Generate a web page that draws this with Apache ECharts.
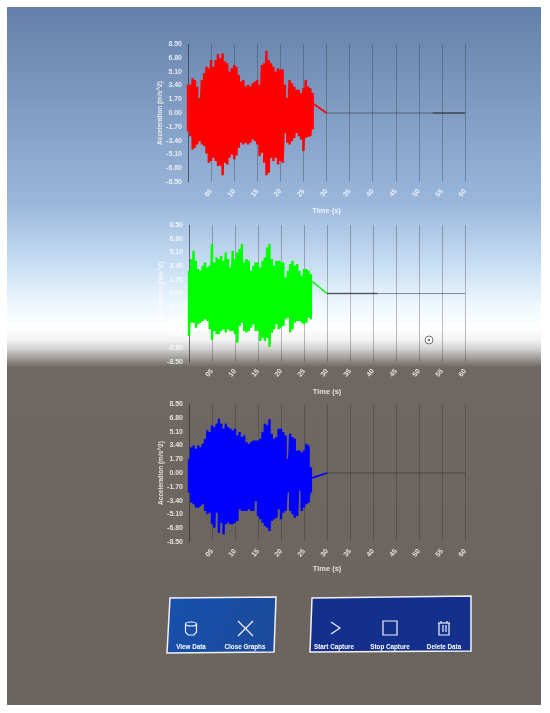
<!DOCTYPE html>
<html>
<head>
<meta charset="utf-8">
<style>
  html, body { margin: 0; padding: 0; background: #fff; }
  #chart { width: 550px; height: 713px; filter: blur(0.7px); }
</style>
<script src="https://cdn.jsdelivr.net/npm/echarts@6/dist/echarts.min.js"></script>
</head>
<body>
<div id="chart"></div>
<script>
const xTicks = ["05", "10", "15", "20", "25", "30", "35", "40", "45", "50", "55", "60"];
const yTicks = ["-8.50", "-6.80", "-5.10", "-3.40", "-1.70", "0.00", "1.70", "3.40", "5.10", "6.80", "8.50"];
const sampleStep = 0.5; // seconds between the peaks

const redHigh = [3.47, 3.47, 4.29, 4.08, 3.27, 1.84, 4.08, 4.90, 5.71, 5.51, 6.53, 5.71, 6.53, 7.27, 6.73, 7.35, 6.33, 6.12, 5.10, 5.51, 5.92, 5.71, 4.69, 3.88, 4.08, 3.27, 3.47, 3.27, 3.67, 3.88, 4.08, 3.47, 5.92, 6.12, 7.67, 6.53, 6.12, 5.71, 5.10, 5.51, 5.31, 5.39, 3.47, 1.84, 4.08, 3.67, 3.27, 2.86, 2.86, 2.45, 3.06, 4.08, 3.27, 3.06, 2.45];
const redLow = [-2.24, -2.86, -4.49, -4.29, -3.88, -3.47, -3.88, -4.08, -4.98, -6.12, -5.92, -5.51, -5.92, -6.53, -6.45, -7.67, -6.12, -6.33, -5.51, -5.10, -5.71, -5.22, -4.29, -3.67, -3.88, -3.67, -3.88, -3.67, -3.27, -3.47, -3.88, -5.31, -4.90, -6.12, -7.67, -7.35, -5.51, -5.92, -5.51, -6.33, -5.92, -6.12, -2.45, -3.67, -3.88, -3.47, -3.06, -2.45, -2.86, -3.27, -4.69, -3.06, -2.94, -2.86, -2.04];
const redTail = [[27, 1.2], [30, 0]];
const redFlat = [[30, 0], [60, 0]];
const redThick = [[53, 0], [60, 0]];

const greenHigh = [2.82, 4.27, 5.31, 4.07, 3.03, 2.82, 3.44, 3.86, 3.24, 3.44, 6.14, 3.86, 4.48, 4.27, 4.69, 4.07, 5.10, 4.27, 3.24, 5.31, 4.27, 5.10, 5.52, 6.14, 3.86, 4.27, 4.07, 2.82, 3.44, 3.86, 3.86, 3.24, 4.07, 4.48, 5.73, 6.14, 4.27, 3.44, 4.07, 4.07, 3.98, 3.86, 1.99, 2.82, 3.65, 4.07, 3.44, 3.65, 2.82, 2.20, 3.03, 3.03, 2.82, 2.41];
const greenLow = [-5.27, -3.61, -3.61, -4.23, -3.82, -3.61, -3.40, -3.20, -3.40, -4.44, -5.77, -4.65, -5.06, -5.06, -4.65, -4.44, -4.85, -4.44, -4.65, -4.65, -5.06, -6.10, -4.02, -3.61, -4.65, -4.85, -4.65, -4.23, -3.82, -4.65, -4.65, -5.89, -5.48, -5.89, -5.48, -6.64, -4.85, -4.44, -3.82, -4.44, -4.23, -4.02, -3.20, -2.99, -4.85, -4.44, -3.61, -3.40, -3.40, -3.61, -3.82, -3.61, -2.99, -3.20];
const greenTail = [[26.8, 1.5], [30, 0]];
const greenFlat = [[30, 0], [60, 0]];
const greenThick = [[30, 0], [41, 0]];

const blueHigh = [1.74, 3.18, 3.39, 2.98, 3.39, 3.18, 3.60, 4.21, 5.25, 5.04, 5.87, 5.66, 6.07, 6.69, 6.07, 5.45, 6.07, 5.66, 5.45, 5.25, 5.45, 4.63, 5.04, 4.42, 4.63, 3.80, 3.60, 3.80, 4.01, 4.01, 4.01, 4.21, 5.04, 6.07, 5.87, 6.61, 4.83, 4.21, 4.42, 5.45, 5.45, 5.04, 4.63, 1.74, 4.83, 4.42, 4.21, 2.77, 2.77, 2.56, 2.77, 3.60, 3.39, 0.70];
const blueLow = [-2.40, -3.64, -3.84, -4.26, -4.26, -4.05, -3.84, -4.67, -5.08, -4.88, -6.32, -6.74, -4.88, -7.36, -6.12, -7.56, -6.32, -6.12, -6.32, -6.32, -6.12, -5.91, -4.46, -4.67, -4.67, -4.67, -4.46, -4.67, -4.67, -3.43, -5.29, -5.70, -6.12, -6.53, -6.74, -7.15, -5.91, -5.70, -5.50, -4.46, -5.70, -4.88, -4.67, -2.40, -4.67, -5.08, -5.50, -5.29, -2.19, -4.67, -4.26, -3.84, -3.64, -2.40];
const blueTail = [[26.8, -0.6], [30, 0]];
const blueFlat = [[30, 0], [60, 0]];

const panels = [
  { top: 44, height: 138, left: 188, timeGap: 25, color: "#ff0000", high: redHigh, low: redLow, tail: redTail, flat: redFlat, thick: redThick },
  { top: 225, height: 137, left: 189, timeGap: 26, color: "#00ff00", high: greenHigh, low: greenLow, tail: greenTail, flat: greenFlat, thick: greenThick },
  { top: 404, height: 138, left: 189, timeGap: 23, color: "#0000ff", high: blueHigh, low: blueLow, tail: blueTail, flat: blueFlat, thick: null }
];

const labelColor = "rgba(255,255,255,0.8)";
const lineColor = "rgba(35,35,40,0.3)";
const font = "Liberation Sans";

const grid = [], xAxis = [], yAxis = [], series = [];

panels.forEach((p, i) => {
  grid.push({ left: p.left, width: 465 - p.left, top: p.top, height: p.height });

  xAxis.push({
    gridIndex: i, type: "value", min: 0, max: 60, interval: 5,
    name: "Time (s)", nameLocation: "middle", nameGap: p.timeGap, nameMoveOverlap: false,
    nameTextStyle: { color: labelColor, fontSize: 7.5, fontWeight: "bold", fontFamily: font },
    axisLine: { show: false },
    axisTick: { show: false },
    splitLine: { show: true, lineStyle: { color: lineColor, width: 1 } },
    axisLabel: {
      color: labelColor, fontSize: 7, fontWeight: "bold", fontFamily: font, rotate: 50, margin: 8,
      formatter: (v) => (v === 0 ? "" : xTicks[v / 5 - 1])
    }
  });

  yAxis.push({
    gridIndex: i, type: "value", min: -8.5, max: 8.5, interval: 1.7,
    name: "Acceleration (m/s^2)", nameLocation: "middle", nameGap: 24, nameRotate: 90, nameMoveOverlap: false,
    nameTextStyle: { color: labelColor, fontSize: 6.5, fontWeight: "bold", fontFamily: font },
    axisLine: { show: true, onZero: false, lineStyle: { color: "rgba(35,35,40,0.45)", width: 1 } },
    axisTick: { show: false },
    splitLine: { show: false },
    axisLabel: {
      color: labelColor, fontSize: 7, fontWeight: "bold", fontFamily: font, margin: 6,
      formatter: (v) => yTicks[Math.round((v + 8.5) / 1.7)]
    }
  });

  // every sample is one up-down stroke, so the burst reads as a solid mass
  const burst = [];
  p.high.forEach((h, k) => {
    burst.push([k * sampleStep, h]);
    burst.push([k * sampleStep, p.low[k]]);
  });

  const line = (data, color, width) => ({
    type: "line", xAxisIndex: i, yAxisIndex: i, data, showSymbol: false, silent: true,
    animation: false, lineStyle: { color, width }, z: 3
  });

  series.push(line(p.flat, "rgba(40,40,45,0.5)", 1));
  if (p.thick) series.push(line(p.thick, "rgba(40,40,45,0.6)", 1.6));
  series.push(line(p.tail, p.color, 1.6));
  series.push(line(burst, p.color, 2.4));
});

// scene behind the charts and the two button panels
const white = "rgba(255,255,255,0.92)";
const btnText = (text, x) => ({
  type: "text", z: 11, x, y: 647,
  style: { text, fill: "#fff", font: "bold 6.3px " + font, align: "center", verticalAlign: "middle" }
});
const stroke = { stroke: "#eef2fa", lineWidth: 1.2, fill: "none" };
const graphic = [
  {
    type: "rect", z: 0, shape: { x: 7, y: 7, width: 534, height: 698 },
    style: {
      fill: {
        type: "linear", x: 0, y: 0, x2: 0, y2: 1,
        colorStops: [
          { offset: 0, color: "#6480aa" },
          { offset: 0.28, color: "#9ab6da" },
          { offset: 0.37, color: "#c8def3" },
          { offset: 0.43, color: "#f0f9fe" },
          { offset: 0.46, color: "#ffffff" },
          { offset: 0.477, color: "#f2f3f3" },
          { offset: 0.489, color: "#d5d5d4" },
          { offset: 0.503, color: "#a09d9b" },
          { offset: 0.516, color: "#6f6862" },
          { offset: 1, color: "#6b645e" }
        ]
      }
    }
  },
  {
    type: "polygon", z: 10, shape: { points: [[170, 598], [276, 597], [274, 652], [167, 653]] },
    style: {
      stroke: white, lineWidth: 1.5,
      fill: { type: "linear", x: 0, y: 0, x2: 1, y2: 1, colorStops: [{ offset: 0, color: "#1750ae" }, { offset: 1, color: "#1c4a98" }] }
    }
  },
  {
    type: "polygon", z: 10, shape: { points: [[312, 598], [471, 596], [471, 651], [310, 652]] },
    style: { stroke: white, lineWidth: 1.5, fill: "#14308c" }
  },
  // View Data
  { type: "ellipse", z: 11, shape: { cx: 191, cy: 624, rx: 5.5, ry: 2 }, style: stroke },
  { type: "polyline", z: 11, shape: { points: [[185.5, 624], [185.5, 632], [188, 635], [194, 635], [196.5, 632], [196.5, 624]] }, style: stroke },
  btnText("View Data", 191),
  // Close Graphs
  { type: "line", z: 11, shape: { x1: 238, y1: 621, x2: 253, y2: 636 }, style: stroke },
  { type: "line", z: 11, shape: { x1: 253, y1: 621, x2: 238, y2: 636 }, style: stroke },
  btnText("Close Graphs", 245),
  // Start Capture
  { type: "polyline", z: 11, shape: { points: [[331, 622], [340, 628], [331, 634]] }, style: stroke },
  btnText("Start Capture", 334),
  // Stop Capture
  { type: "rect", z: 11, shape: { x: 383, y: 621, width: 14, height: 14 }, style: stroke },
  btnText("Stop Capture", 390),
  // Delete Data
  { type: "polyline", z: 11, shape: { points: [[439, 623], [439, 635], [449, 635], [449, 623]] }, style: stroke },
  { type: "line", z: 11, shape: { x1: 438, y1: 623, x2: 450, y2: 623 }, style: stroke },
  { type: "line", z: 11, shape: { x1: 441, y1: 621, x2: 441, y2: 623 }, style: stroke },
  { type: "line", z: 11, shape: { x1: 447, y1: 621, x2: 447, y2: 623 }, style: stroke },
  { type: "line", z: 11, shape: { x1: 443, y1: 625, x2: 443, y2: 632 }, style: stroke },
  { type: "line", z: 11, shape: { x1: 446, y1: 625, x2: 446, y2: 632 }, style: stroke },
  btnText("Delete Data", 444),
  // pointer ring in the green panel
  { type: "circle", z: 11, shape: { cx: 429, cy: 340, r: 4 }, style: { stroke: "#77767a", lineWidth: 1, fill: "rgba(255,255,255,0.5)" } },
  { type: "circle", z: 11, shape: { cx: 429, cy: 340, r: 1.2 }, style: { fill: "#77767a" } }
];

const chart = echarts.init(document.getElementById("chart"));
chart.setOption({ animation: false, grid, xAxis, yAxis, series, graphic });
</script>
</body>
</html>
